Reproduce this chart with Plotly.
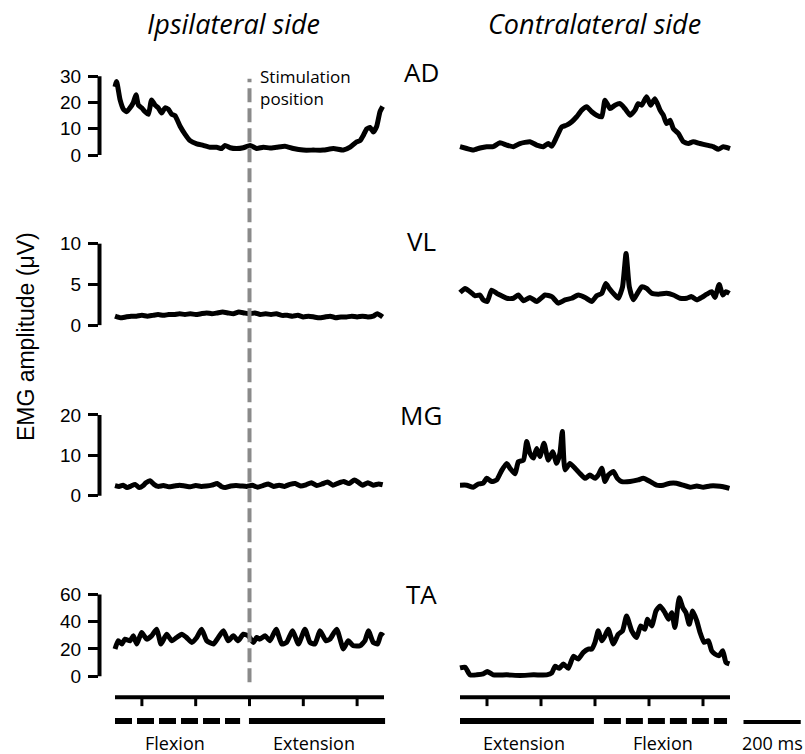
import plotly.graph_objects as go

W, H = 805, 754

# ---------------- data ----------------
muscles = ["AD", "VL", "MG", "TA"]
y_tick_vals = {"AD": [0, 10, 20, 30], "VL": [0, 5, 10], "MG": [0, 10, 20], "TA": [0, 20, 40, 60]}

ipsi_AD_t = [0,6,19,31,43,56,68,78,87,99,112,124,136,149,161,173,186,198,211,223,242,260,279,304,328,353,378,397,409,428,452,477,502,527,551,576,601,632,663,700,737,774,812,849,874,898,911,923,936,948,960,973,985,995]
ipsi_AD_v = [26,28,21,17.5,16.5,18,20,23,19,18,16.5,15.5,21,19,18,16,18,17.5,15.5,15,11,8,5.5,4.3,3.7,3,3,2.5,3.7,2.8,2.5,2.8,3.7,2.5,3,2.7,3,3.4,2.5,1.9,1.9,1.9,2.5,1.9,3,5,5.5,7.5,10,10.5,8.8,11,16.5,18.5]

contra_AD_t = [0,25,49,74,99,123,148,173,198,222,259,284,309,327,340,358,377,395,414,432,451,469,488,506,525,537,556,574,593,611,630,648,660,673,691,706,722,741,753,765,778,790,809,827,846,864,889,914,938,957,975,1000]
contra_AD_v = [3.2,2.5,1.9,2.7,3.2,3.2,4.7,3.8,3.2,4.4,5.1,3.8,3.2,4.4,3.4,6.9,10.7,11.4,12.7,14.6,17.1,18.4,16.5,15.2,14.6,20.9,17.7,19,19.6,17.7,15.2,17.1,19.6,19,22.2,19,21.5,17.1,15.2,12,13.3,10.1,8.2,5.1,4.4,5.1,4.4,3.8,3.2,2.2,3.2,2.5]

ipsi_VL_t = [0,20,40,60,80,100,120,140,160,180,200,220,240,260,280,300,320,340,360,380,400,420,440,460,480,500,520,540,560,580,600,620,640,660,680,700,720,740,760,780,800,820,840,860,880,900,920,940,960,975,995]
ipsi_VL_v = [1.1,0.9,1.0,1.1,1.1,1.2,1.1,1.2,1.3,1.2,1.3,1.3,1.4,1.3,1.4,1.3,1.4,1.5,1.4,1.5,1.6,1.5,1.4,1.6,1.5,1.4,1.5,1.3,1.4,1.3,1.4,1.2,1.2,1.1,1.2,1.0,1.1,1.0,0.9,1.0,1.1,0.9,1.0,1.0,1.1,1.0,1.1,1.0,1.1,1.4,1.0]

contra_VL_t = [0,19,37,56,74,86,101,117,136,154,173,198,216,235,259,284,315,340,364,389,414,438,463,488,506,525,540,553,568,586,602,615,627,642,657,673,691,710,735,765,790,815,840,858,877,895,914,932,944,960,973,985,998]
contra_VL_v = [4.0,4.5,4.1,3.6,3.7,3.1,2.9,4.3,3.9,3.6,3.3,3.3,3.7,3.0,3.4,2.9,3.7,3.5,2.7,3.1,3.3,3.7,3.4,2.9,3.6,3.9,5.1,4.5,3.9,3.3,4.7,8.8,4.7,3.1,3.9,4.7,4.5,3.9,3.8,3.9,3.7,3.3,3.3,3.5,3.1,3.4,3.8,4.1,3.4,5.0,3.7,4.1,3.9]

ipsi_MG_t = [0,15,30,45,60,75,90,105,115,130,145,160,180,200,220,240,260,280,300,320,340,360,380,395,410,430,450,470,490,510,530,550,570,590,610,630,650,670,690,710,730,750,770,790,810,830,850,870,890,905,920,940,960,980,995]
ipsi_MG_v = [2.5,2.3,2.6,2.0,2.4,2.8,2.0,2.5,3.2,3.7,2.8,2.3,2.5,2.2,2.4,2.6,2.4,2.2,2.5,2.3,2.4,2.6,3.0,2.3,2.0,2.4,2.5,2.4,2.3,2.6,2.1,2.5,2.9,2.3,2.6,2.3,2.8,3.0,2.4,2.7,3.2,2.5,2.9,3.4,2.6,3.1,3.5,3.0,3.9,3.3,2.6,3.2,2.6,2.9,2.7]

contra_MG_t = [0,25,49,68,86,99,117,136,154,173,185,204,216,235,247,259,272,284,296,311,327,343,358,370,379,389,407,426,444,463,481,500,512,525,537,549,568,583,599,630,660,679,704,728,753,778,802,827,852,877,901,926,951,975,998]
contra_MG_v = [2.6,2.6,2.1,2.9,3.1,4.3,3.5,3.9,6.2,8.0,6.8,5.4,8.4,8.8,13.4,10.5,9.3,11.7,9.7,13.0,8.8,10.9,8.0,10.5,15.9,6.4,8.0,6.8,5.5,4.3,5.1,4.3,5.1,6.8,3.5,5.1,6.0,4.3,3.5,3.5,3.9,4.3,3.5,2.6,2.6,3.1,3.1,2.6,2.1,2.4,2.1,2.4,2.4,2.2,1.8]

ipsi_TA_t = [0,12,25,37,56,68,81,99,118,136,155,171,192,211,229,248,266,285,304,322,341,366,384,403,421,440,458,477,496,514,527,539,558,576,599,620,638,660,682,706,725,743,762,784,799,824,849,867,886,911,929,942,960,976,989,998]
ipsi_TA_v = [19.9,26,23.6,27.2,26,29.6,23.6,32,27.2,29.6,34.5,23.6,30.8,26,28.4,30.8,28.4,24.8,28.4,34.5,26,23.6,28.4,33.3,26,29.6,26,30.8,29.6,24.8,28.4,27.2,29.6,26,34.5,23.6,24.8,33.3,23.6,34.5,24.8,23.6,33.3,26,27.2,34.5,19.9,26,22.3,22.3,26,33.3,24.8,23.6,30.8,29.6]

contra_TA_t = [0,19,37,62,86,101,123,173,222,272,321,340,352,368,383,401,420,438,457,475,488,500,512,525,537,549,568,586,602,617,636,654,669,685,694,710,726,741,759,772,784,796,812,825,837,849,862,877,889,904,920,932,944,960,973,985,998]
contra_TA_v = [6.1,6.6,1.0,1.0,1.7,3.4,1.0,1.0,0.5,1.0,1.0,2.4,7.3,5.8,9.0,5.8,14.6,12.6,17.5,19.9,19.9,24.8,33.3,26,29.6,34.5,23.6,30.8,33.3,44.2,33.3,28.4,36.9,34.5,41.8,36.9,47.9,51.5,46.6,41.8,46.6,35.7,57.6,50.3,46.6,38.1,47.9,40.6,32.1,24.8,26,18.7,16.3,15.1,18.7,10.2,9.0]

ipsi_series = {"AD": (ipsi_AD_t, ipsi_AD_v), "VL": (ipsi_VL_t, ipsi_VL_v),
               "MG": (ipsi_MG_t, ipsi_MG_v), "TA": (ipsi_TA_t, ipsi_TA_v)}
contra_series = {"AD": (contra_AD_t, contra_AD_v), "VL": (contra_VL_t, contra_VL_v),
                 "MG": (contra_MG_t, contra_MG_v), "TA": (contra_TA_t, contra_TA_v)}

time_ticks = [100, 300, 500, 700, 900]
time_span = [0, 1000]
stim_time = 500
ipsi_phases = [("Flexion", 0, 465, "dash"), ("Extension", 498, 1004, "solid")]
contra_phases = [("Extension", 0, 496, "solid"), ("Flexion", 533, 989, "dash")]
scale_bar_ms = 200

# ---------------- geometry (pixels) ----------------
def xpaper(p):
    return p / W

def ypaper(p):
    return 1 - p / H

def x_axis(t0px, t1px, d0, d1):
    s = (t1px - t0px) / 1000.0
    return dict(domain=[d0 / W, d1 / W], range=[(d0 - t0px) / s, (d1 - t0px) / s],
                visible=False, fixedrange=True)

# rows: pixel of value 0, pixel of top tick value, top tick value
row_geom = {"AD": (154.5, 75.5, 30), "VL": (325, 243.3, 10), "MG": (496, 415, 20), "TA": (677, 595, 60)}

tick_font = dict(family="Liberation Sans, Arial", size=19, color="black")
text_font = "Open Sans"

fig = go.Figure()
layout = dict(width=W, height=H, margin=dict(l=0, r=0, t=0, b=0),
              paper_bgcolor="white", plot_bgcolor="rgba(0,0,0,0)", showlegend=False)
layout["xaxis"] = x_axis(115, 384, 99, 392)
layout["xaxis2"] = x_axis(460, 730, 455, 805)

shapes = []
annotations = []
SPINE_X = 99.5
LINE = dict(color="black", width=5, shape="spline", smoothing=0.5)

for i, m in enumerate(muscles):
    p0, ptop, vtop = row_geom[m]
    s = (p0 - ptop) / vtop
    lo, hi = -0.12 * vtop, 1.12 * vtop
    pb, pt = p0 - lo * s, p0 - hi * s
    dom = [ypaper(pb), ypaper(pt)]
    li, ri = i + 1, i + 5
    lname = "yaxis" if li == 1 else f"yaxis{li}"
    layout[lname] = dict(domain=dom, range=[lo, hi], anchor="x", showgrid=False, zeroline=False,
                         showline=False, ticks="outside", ticklen=10, tickwidth=3, tickcolor="black",
                         tickvals=y_tick_vals[m], tickfont=tick_font, ticklabelstandoff=3,
                         fixedrange=True)
    layout[f"yaxis{ri}"] = dict(domain=dom, range=[lo, hi], anchor="x2", visible=False, fixedrange=True)
    yl = "y" if li == 1 else f"y{li}"
    # y spine
    shapes.append(dict(type="line", xref="paper", yref=yl, x0=xpaper(SPINE_X), x1=xpaper(SPINE_X),
                       y0=0, y1=vtop, line=dict(color="black", width=4)))
    t, v = ipsi_series[m]
    fig.add_trace(go.Scatter(x=t, y=v, mode="lines", xaxis="x", yaxis=yl, line=LINE,
                             hoverinfo="skip"))
    t, v = contra_series[m]
    fig.add_trace(go.Scatter(x=t, y=v, mode="lines", xaxis="x2", yaxis=f"y{ri}", line=LINE,
                             hoverinfo="skip"))

# muscle labels
label_y = {"AD": 71, "VL": 241, "MG": 415, "TA": 595}
for m in muscles:
    annotations.append(dict(text=m, xref="paper", yref="paper", x=xpaper(421), y=ypaper(label_y[m]),
                            xanchor="center", yanchor="middle", showarrow=False,
                            font=dict(family=text_font, size=26, color="black")))

# stimulation line
shapes.append(dict(type="line", xref="x", yref="paper", x0=stim_time, x1=stim_time,
                   y0=ypaper(683), y1=ypaper(78),
                   line=dict(color="#8a8a8a", width=4, dash="14px,6px")))
annotations.append(dict(text="Stimulation<br>position", xref="paper", yref="paper",
                        x=xpaper(258), y=ypaper(62), xanchor="left", yanchor="top", align="left",
                        showarrow=False, font=dict(family=text_font, size=17, color="black")))

# time axes, phase bars
for xr, phases in (("x", ipsi_phases), ("x2", contra_phases)):
    shapes.append(dict(type="line", xref=xr, yref="paper", x0=time_span[0], x1=time_span[1],
                       y0=ypaper(698), y1=ypaper(698), line=dict(color="black", width=4)))
    for tk in time_ticks:
        shapes.append(dict(type="line", xref=xr, yref="paper", x0=tk, x1=tk,
                           y0=ypaper(698), y1=ypaper(707), line=dict(color="black", width=3)))
    for name, a, b, style in phases:
        shapes.append(dict(type="line", xref=xr, yref="paper", x0=a, x1=b,
                           y0=ypaper(722), y1=ypaper(722),
                           line=dict(color="black", width=6,
                                     dash="17px,5px" if style == "dash" else "solid")))
        annotations.append(dict(text=name, xref=xr, yref="paper", x=(a + b) / 2 - 10, y=ypaper(744),
                                xanchor="center", yanchor="middle", showarrow=False,
                                font=dict(family=text_font, size=18, color="black")))

# scale bar
sb0 = 1050
shapes.append(dict(type="line", xref="x2", yref="paper", x0=sb0, x1=sb0 + scale_bar_ms + 12,
                   y0=ypaper(723), y1=ypaper(723), line=dict(color="black", width=4)))
annotations.append(dict(text=f"{scale_bar_ms} ms", xref="x2", yref="paper", x=sb0 + (scale_bar_ms + 12) / 2,
                        y=ypaper(744), xanchor="center", yanchor="middle", showarrow=False,
                        font=dict(family=text_font, size=18, color="black")))

# titles
annotations.append(dict(text="<i>Ipsilateral side</i>", xref="paper", yref="paper", x=xpaper(233),
                        y=ypaper(23), xanchor="center", yanchor="middle", showarrow=False,
                        font=dict(family=text_font, size=27, color="black")))
annotations.append(dict(text="<i>Contralateral side</i>", xref="paper", yref="paper", x=xpaper(594),
                        y=ypaper(23), xanchor="center", yanchor="middle", showarrow=False,
                        font=dict(family=text_font, size=27, color="black")))
# y title
annotations.append(dict(text="EMG amplitude (\u03bcV)", xref="paper", yref="paper", x=xpaper(26),
                        y=ypaper(337), xanchor="center", yanchor="middle", textangle=-90,
                        showarrow=False, font=dict(family="Liberation Sans, Arial", size=23, color="black")))

layout["shapes"] = shapes
layout["annotations"] = annotations
fig.update_layout(**layout)
fig.write_html("out.html", config={"displayModeBar": False},
               post_script="document.body.style.margin='0px';document.body.style.overflow='hidden';")
